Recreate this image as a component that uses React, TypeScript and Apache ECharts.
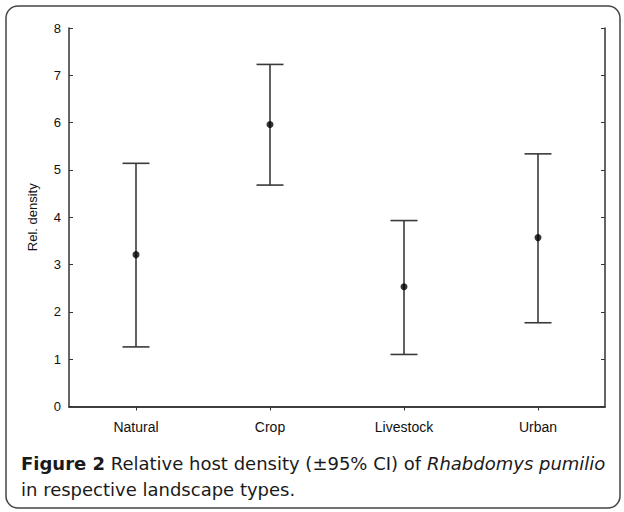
import React, { useEffect, useRef } from "react";
import * as echarts from "echarts";

const categories = ["Natural", "Crop", "Livestock", "Urban"];
const means = [3.21, 5.96, 2.53, 3.57];
const lower = [1.26, 4.68, 1.1, 1.77];
const upper = [5.14, 7.23, 3.93, 5.34];
const yTicks = [0, 1, 2, 3, 4, 5, 6, 7, 8];

export default function App() {
  const ref = useRef<HTMLDivElement>(null);
  useEffect(() => {
    document.body.style.margin = "0";
    const chart = echarts.init(ref.current!, null, { renderer: "svg" });
    const lineColor = "#333";
    const errData = categories.map((_, i) => [i, lower[i], upper[i]]);
    const capFont = { fontFamily: "DejaVu Sans", fontSize: 18, fill: "#1a1a1a" };
    chart.setOption({
      animation: false,
      backgroundColor: "#fff",
      grid: { left: 69, right: 19, top: 28, bottom: 105.5, containLabel: false },
      xAxis: [
        {
          type: "category",
          data: categories,
          position: "bottom",
          boundaryGap: true,
          axisLine: { lineStyle: { color: lineColor, width: 1.5 } },
          axisTick: { inside: true, alignWithLabel: true, length: 4, lineStyle: { color: lineColor } },
          axisLabel: { color: "#111", fontFamily: "Liberation Sans, Arial", fontSize: 14, margin: 13 },
          splitLine: { show: false },
        },
        {
          type: "category",
          data: categories,
          position: "top",
          boundaryGap: true,
          axisLine: { show: true, lineStyle: { color: lineColor, width: 1.5 } },
          axisTick: { show: true, inside: true, alignWithLabel: true, length: 4, lineStyle: { color: lineColor } },
          axisLabel: { show: false },
          splitLine: { show: false },
        },
      ],
      yAxis: [
        {
          type: "value",
          min: 0,
          max: 8,
          interval: 1,
          name: "Rel. density",
          nameLocation: "middle",
          nameGap: 30,
          nameTextStyle: { color: "#111", fontFamily: "Liberation Sans, Arial", fontSize: 13 },
          axisLine: { show: true, lineStyle: { color: lineColor, width: 1.5 } },
          axisTick: { show: true, inside: true, length: 4, lineStyle: { color: lineColor } },
          axisLabel: {
            color: "#111",
            fontFamily: "Liberation Sans, Arial",
            fontSize: 13,
            margin: 8,
            formatter: (v: number) => (yTicks.includes(v) ? String(v) : ""),
          },
          splitLine: { show: false },
        },
        {
          type: "value",
          min: 0,
          max: 8,
          interval: 1,
          position: "right",
          axisLine: { show: true, lineStyle: { color: lineColor, width: 1.5 } },
          axisTick: { show: true, inside: true, length: 4, lineStyle: { color: lineColor } },
          axisLabel: { show: false },
          splitLine: { show: false },
        },
      ],
      series: [
        {
          type: "custom",
          xAxisIndex: 0,
          yAxisIndex: 0,
          data: errData,
          renderItem: (params: any, api: any) => {
            const idx = api.value(0);
            const lo = api.coord([idx, api.value(1)]);
            const hi = api.coord([idx, api.value(2)]);
            const hw = 13.5;
            const style = { stroke: "#3a3a3a", lineWidth: 1.6 };
            return {
              type: "group",
              children: [
                { type: "line", shape: { x1: hi[0], y1: hi[1], x2: lo[0], y2: lo[1] }, style },
                { type: "line", shape: { x1: hi[0] - hw, y1: hi[1], x2: hi[0] + hw, y2: hi[1] }, style },
                { type: "line", shape: { x1: lo[0] - hw, y1: lo[1], x2: lo[0] + hw, y2: lo[1] }, style },
              ],
            };
          },
          z: 2,
        },
        {
          type: "scatter",
          xAxisIndex: 0,
          yAxisIndex: 0,
          data: means,
          symbol: "circle",
          symbolSize: 7,
          itemStyle: { color: "#000" },
          z: 3,
        },
      ],
      graphic: [
        {
          type: "rect",
          shape: { x: 6, y: 6, width: 614, height: 502, r: 12 },
          style: { fill: "none", stroke: "#444", lineWidth: 1.5 },
          z: -1,
        },
        {
          type: "text",
          x: 21,
          y: 463,
          style: {
            text: "{b|Figure 2} Relative host density (±95% CI) of {i|Rhabdomys pumilio}",
            ...capFont,
            verticalAlign: "middle",
            fontWeight: "normal",
            lineHeight: 21,
            rich: {
              b: { ...capFont, fontWeight: "bold", lineHeight: 21 },
              i: { ...capFont, fontStyle: "italic", fontWeight: "normal", lineHeight: 21 },
            },
          },
        },
        {
          type: "text",
          x: 21,
          y: 489,
          style: {
            text: "in respective landscape types.",
            ...capFont,
            verticalAlign: "middle",
            fontWeight: "normal",
            lineHeight: 21,
          },
        },
      ],
    });
    return () => chart.dispose();
  }, []);
  return <div ref={ref} style={{ width: 624, height: 512, position: "absolute", left: 0, top: 0 }} />;
}
